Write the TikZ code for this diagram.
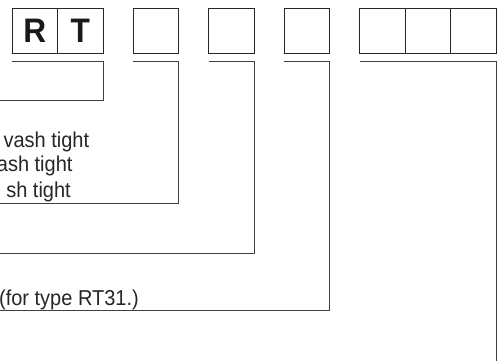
\documentclass[tikz,border=0pt]{standalone}
\usepackage{fontspec}
\setmainfont{Liberation Sans}[FakeStretch=0.93]
\usetikzlibrary{positioning}
\tikzset{
cell/.style={draw=black!85, line width=0.9pt, minimum width=45.5pt, minimum height=45pt, inner sep=0pt, outer sep=0pt, font=\fontsize{34}{40}\bfseries, text=black!90}, % one box of the code
lead/.style={draw=black!75, line width=0.9pt}, % bracket under a group of boxes
lbl/.style={inner sep=0pt, anchor=base east, font=\fontsize{21.5}{24}\selectfont, text=black!85}, % option text
}

\begin{document}
\begin{tikzpicture}[x=1pt, y=-1pt]
                \useasboundingbox (0,0) rectangle (497,360);
                \clip (0,0) rectangle (497,360);

                % the code boxes
                \node[cell, anchor=north west] (r) at (12,8) {R};
                \node[cell, right=0pt of r] (t) {T};
                \node[cell, right=30pt of t] (b1) {};
                \node[cell, right=30pt of b1] (b2) {};
                \node[cell, right=30pt of b2] (b3) {};
                \node[cell, right=30pt of b3] (c1) {};
                \node[cell, right=0pt of c1] (c2) {};
                \node[cell, right=0pt of c2] (c3) {};

                % free ends of the brackets
                \coordinate (e0) at (-3,100);
                \coordinate (e1) at (-3,203);
                \coordinate (e2) at (-3,253);
                \coordinate (e3) at (-3,310);
                \coordinate (e4) at (496,365);

                \draw[lead] ([yshift=-8pt]r.south west) -- ([yshift=-8pt]t.south east) |- (e0);
                \draw[lead] ([yshift=-8pt]b1.south west) -- ([yshift=-8pt]b1.south east) |- (e1);
                \draw[lead] ([yshift=-8pt]b2.south west) -- ([yshift=-8pt]b2.south east) |- (e2);
                \draw[lead] ([yshift=-8pt]b3.south west) -- ([yshift=-8pt]b3.south east) |- (e3);
                \draw[lead] ([yshift=-8pt]c1.south west) -- ([yshift=-8pt]c3.south east) -- (c3.south east |- e4);

                % texts
                \node[lbl] (w1) at (89.3,147) {vash tight};
                \node[lbl] (w2) at (72.7,171) {ash tight};
                \node[lbl] (w3) at (71,197) {sh tight};
                \node[lbl] (ty) at (139,305) {(for type RT31.)};
            \end{tikzpicture}
\end{document}
